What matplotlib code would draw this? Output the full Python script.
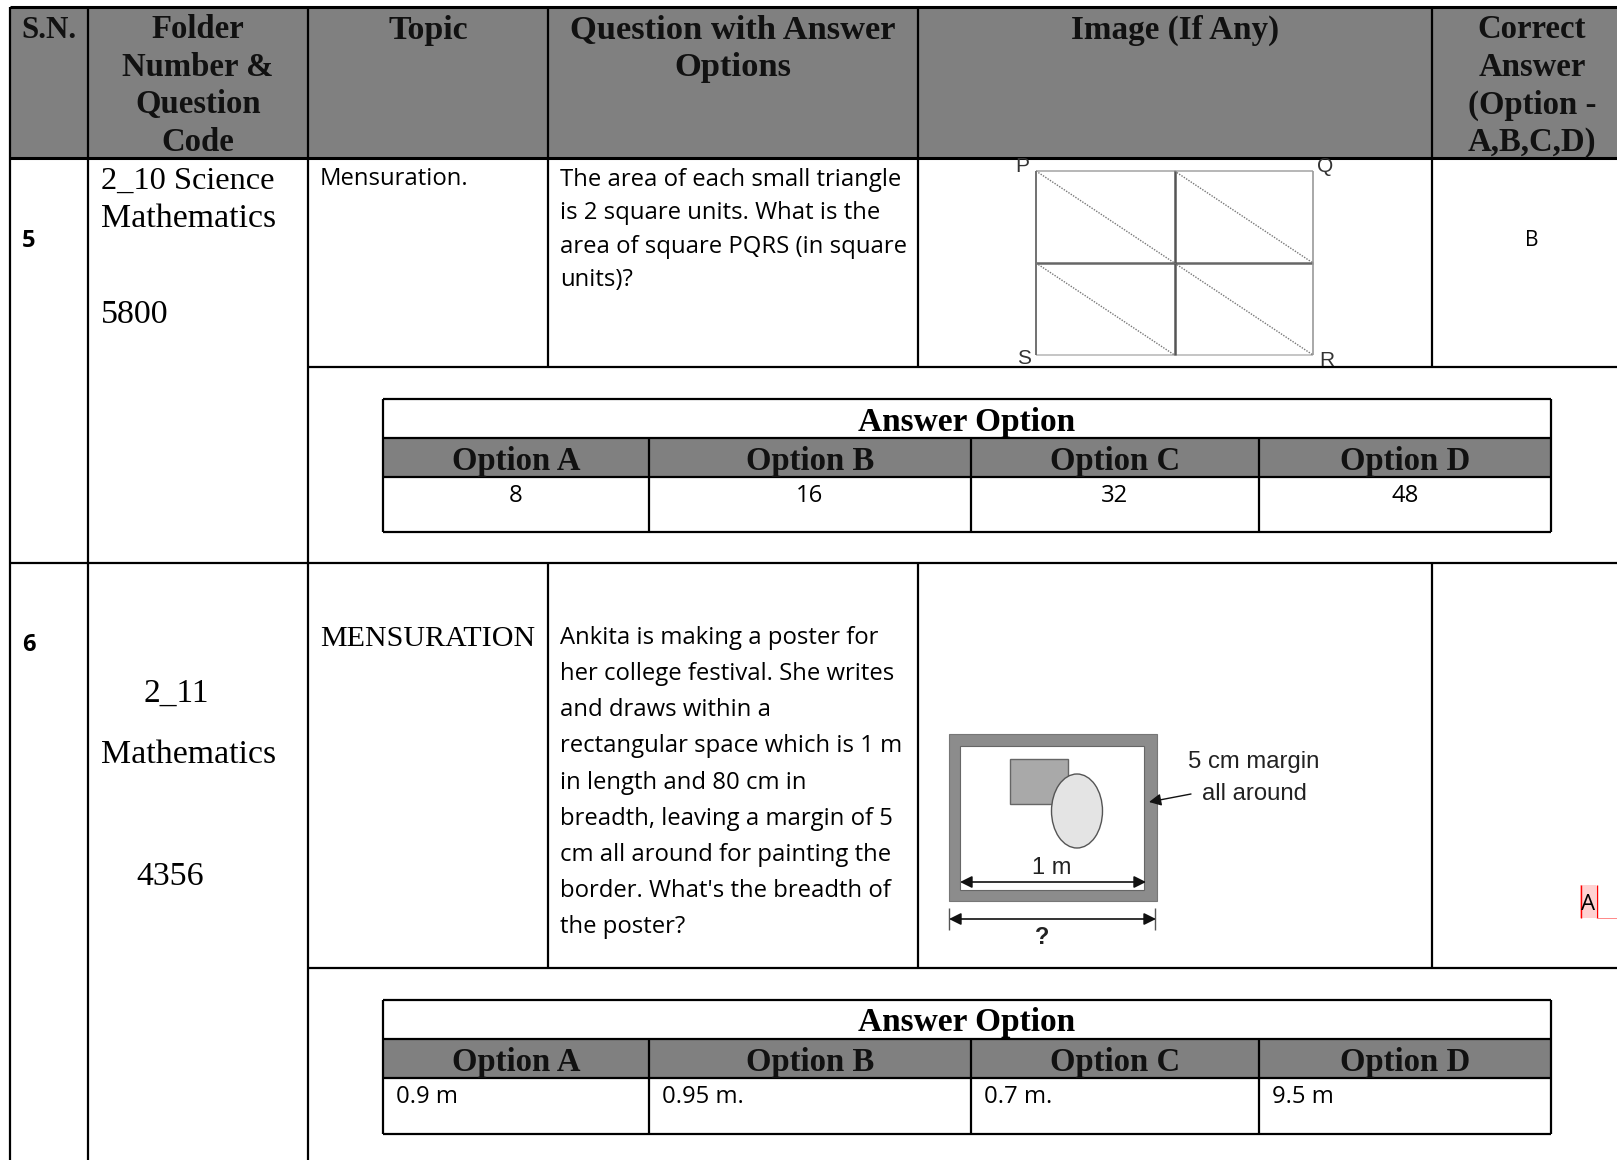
import matplotlib
matplotlib.use("Agg")
import matplotlib.pyplot as plt
from matplotlib.patches import Rectangle, Ellipse

header_labels = [["S.N."], ["Folder", "Number &", "Question", "Code"], ["Topic"],
                 ["Question with Answer", "Options"], ["Image (If Any)"],
                 ["Correct", "Answer", "(Option -", "A,B,C,D)"]]
option_names = ["Option A", "Option B", "Option C", "Option D"]
options_5 = ["8", "16", "32", "48"]
options_6 = ["0.9 m", "0.95 m.", "0.7 m.", "9.5 m"]
question_5 = ["The area of each small triangle", "is 2 square units. What is the",
              "area of square PQRS (in square", "units)?"]
question_6 = ["Ankita is making a poster for", "her college festival. She writes",
              "and draws within a", "rectangular space which is 1 m", "in length and 80 cm in",
              "breadth, leaving a margin of 5", "cm all around for painting the",
              "border. What's the breadth of", "the poster?"]

SERIF = "Liberation Serif"
SANS = "Open Sans"
ARIAL = "Liberation Sans"
GREY = "#808080"

fig = plt.figure(figsize=(16.17, 11.6), dpi=100)
ax = fig.add_axes([0, 0, 1, 1])
ax.set_xlim(0, 1617)
ax.set_ylim(1160, 0)
ax.axis("off")


def hline(x0, x1, y, lw=1.6, c="black"):
    ax.plot([x0, x1], [y, y], color=c, lw=lw, solid_capstyle="butt")


def vline(x, y0, y1, lw=1.6, c="black"):
    ax.plot([x, x], [y0, y1], color=c, lw=lw, solid_capstyle="butt")


def txt(x, y, s, font=SANS, size=17.2, weight="normal", ha="left", c="black"):
    ax.text(x, y, s, family=font, fontsize=size, fontweight=weight, ha=ha, va="center", color=c)


# main table
col_x = [10, 88, 308, 548, 918, 1432, 1617]
header_sizes = [22.2, 23.6, 24.4, 24.8, 23.9, 23.6]
ax.add_patch(Rectangle((10, 7), 1607, 151, fc=GREY, ec="none"))
hline(10, 1617, 7, 2.2)
hline(10, 1617, 158, 2.2)
hline(308, 1617, 367)
hline(10, 1617, 563)
hline(308, 1617, 968)
vline(10, 7, 1160)
vline(88, 7, 1160)
vline(308, 7, 1160)
for x in col_x[3:6]:
    vline(x, 7, 367)
    vline(x, 563, 968)

for i, lines in enumerate(header_labels):
    cx = (col_x[i] + col_x[i + 1]) / 2
    if i == 5:
        cx = 1532
    for j, line in enumerate(lines):
        txt(cx, 30 + j * 37.5, line, font=SERIF, size=header_sizes[i], weight="bold", ha="center", c="#111111")

# row 5
txt(22, 241, "5", size=17, weight="bold")
txt(101, 181, "2_10 Science", font=SERIF, size=23.3)
txt(101, 219, "Mathematics", font=SERIF, size=24.4)
txt(101, 315, "5800", font=SERIF, size=24.4)
txt(320, 179, "Mensuration.")
for j, line in enumerate(question_5):
    txt(560, 180 + j * 33.4, line)
txt(1532, 240, "B", size=15, ha="center")

# figure for row 5
gx0, gx1, gxm = 1036, 1313, 1174.5
gy0, gy1, gym = 171, 355, 263
hline(gx0, gx1, gy0, 1.2, "#aaaaaa")
hline(gx0, gx1, gy1, 1.2, "#bbbbbb")
hline(gx0, gx1, gym, 1.8, "#666666")
vline(gx0, gy0, gy1, 1.3, "#666666")
vline(gxm, gy0, gy1, 1.8, "#555555")
vline(gx1, gy0, gy1, 1.2, "#999999")
for xa, xb, ya, yb in [(gx0, gxm, gy0, gym), (gxm, gx1, gy0, gym), (gx0, gxm, gym, gy1), (gxm, gx1, gym, gy1)]:
    ax.plot([xa, xb], [ya, yb], color="#777777", lw=1, ls=(0, (1, 1)))
txt(1022, 166, "P", font=ARIAL, size=15, ha="center", c="#333333")
txt(1325, 166, "Q", font=ARIAL, size=15, ha="center", c="#333333")
txt(1024, 359, "S", font=ARIAL, size=15, ha="center", c="#333333")
txt(1327, 361, "R", font=ARIAL, size=15, ha="center", c="#333333")

# row 6
txt(22, 645, "6", size=17, weight="bold")
txt(320, 639, "MENSURATION", font=SERIF, size=21.6)
txt(143, 693, "2_11", font=SERIF, size=24)
txt(101, 755, "Mathematics", font=SERIF, size=24.4)
txt(136, 877, "4356", font=SERIF, size=24.4)
for j, line in enumerate(question_6):
    txt(560, 638 + j * 36.15, line)

# poster figure for row 6
ax.add_patch(Rectangle((949, 734), 208, 167, fc="#8c8c8c", ec="#777777", lw=0.8))
ax.add_patch(Rectangle((960, 746), 184, 144, fc="white", ec="#666666", lw=0.8))
ax.add_patch(Rectangle((1010, 759), 58, 45, fc="#a9a9a9", ec="#666666", lw=1))
ax.add_patch(Ellipse((1077, 811), 51, 74, fc="#e4e4e4", ec="#555555", lw=1))
txt(1052, 868, "1 m", font=ARIAL, size=17, ha="center", c="#222222")
txt(1254, 762, "5 cm margin", font=ARIAL, size=17.2, ha="center", c="#222222")
txt(1254, 794, "all around", font=ARIAL, size=17.2, ha="center", c="#222222")
txt(1042, 938, "?", font=ARIAL, size=17, weight="bold", ha="center", c="#222222")
arrow = dict(arrowstyle="<|-|>", color="#111111", lw=1.2, shrinkA=0, shrinkB=0, mutation_scale=18)
ax.annotate("", xy=(960, 882), xytext=(1146, 882), arrowprops=arrow)
ax.annotate("", xy=(949, 919), xytext=(1156, 919), arrowprops=arrow)
vline(949, 908, 930, 1, "#555555")
vline(1155, 908, 930, 1, "#555555")
ax.annotate("", xy=(1149, 802), xytext=(1191, 794),
            arrowprops=dict(arrowstyle="-|>", color="#111111", lw=1, shrinkA=0, shrinkB=0, mutation_scale=18))

# tracked-change A at right edge
ax.add_patch(Rectangle((1580, 885), 16, 33, fc="#ffd2d2", ec="none"))
vline(1580.5, 885, 918, 1, "red")
vline(1596.5, 885, 918, 1, "red")
hline(1597, 1617, 918, 0.7, "#ff8888")
txt(1588, 905, "A", size=16, ha="center")


def answer_table(top, values, bottom):
    x0, x1 = 383, 1551
    cols = [383, 649, 970.5, 1259, 1551]
    y1, y2, y3 = top + 38.5, top + 78, top + bottom
    ax.add_patch(Rectangle((x0, y1), x1 - x0, y2 - y1, fc=GREY, ec="none"))
    for y in [top, y1, y2, y3]:
        hline(x0, x1, y)
    for x in cols:
        vline(x, y1 if x in cols[1:4] else top, y3)
    txt((x0 + x1) / 2, top + 23, "Answer Option", font=SERIF, size=24, weight="bold", ha="center")
    for i, name in enumerate(option_names):
        cx = (cols[i] + cols[i + 1]) / 2
        txt(cx, y1 + 24, name, font=SERIF, size=23.6, weight="bold", ha="center", c="#111111")
        if top < 600:
            txt(cx, y2 + 19, values[i], ha="center")
        else:
            txt(cols[i] + 13, y2 + 19, values[i])


answer_table(399, options_5, 133)
answer_table(1000, options_6, 134)

fig.savefig("out.png", dpi=100)
